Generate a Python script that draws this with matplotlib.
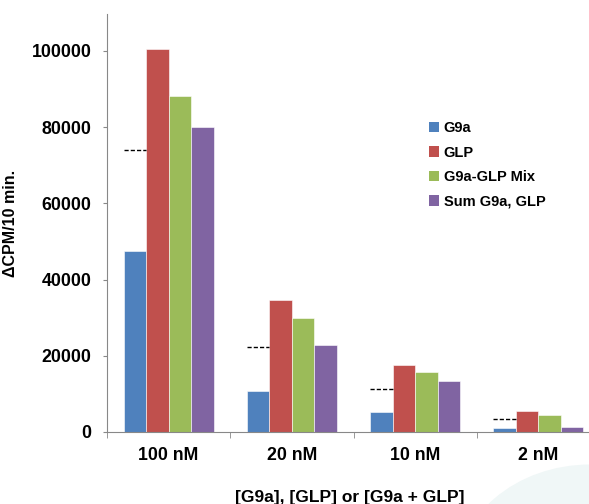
import matplotlib
matplotlib.use("Agg")
import matplotlib.pyplot as plt
from matplotlib.patches import Circle, Patch
import numpy as np

plt.rcParams['font.family'] = ['Liberation Sans', 'DejaVu Sans']
plt.rcParams['font.weight'] = 'bold'

categories = ['100 nM', '20 nM', '10 nM', '2 nM']
series = ['G9a', 'GLP', 'G9a-GLP Mix', 'Sum G9a, GLP']
g9a = [47500, 10700, 5250, 1150]
glp = [100500, 34650, 17500, 5500]
mix = [88200, 30000, 15800, 4400]
sum_g9a_glp = [80000, 22750, 13300, 1300]
expected = [74000, 22400, 11400, 3350]
yticks = [0, 20000, 40000, 60000, 80000, 100000]

colors = ['#4F81BD', '#C0504D', '#9BBB59', '#8064A2']

fig = plt.figure(figsize=(5.89, 5.04), dpi=100)
# faint decoration in the lower right corner
fig.patches.append(Circle((590 / 589, 1 - 580 / 504), 135 / 589, transform=fig.transFigure,
                          facecolor='#f0f7f7', edgecolor='none', zorder=0))

ax = fig.add_axes([107 / 589, 1 - 432 / 504, 493 / 589, 418 / 504])
ax.patch.set_alpha(0)

x = np.arange(len(categories))
w = 0.183
for i, (vals, name) in enumerate(zip([g9a, glp, mix, sum_g9a_glp], series)):
    ax.bar(x + (i - 1.5) * w, vals, w, color=colors[i], label=name,
           edgecolor='white', linewidth=0.4, zorder=2)

ax.hlines(expected, x - 2 * w, x - w, colors='black', linestyles=(0, (3, 1.5)),
          linewidth=1.0, zorder=3)

ax.set_xlim(-0.5, 3.5)
ax.set_ylim(0, 109700)
ax.set_yticks(yticks)
ax.set_yticklabels([str(v) for v in yticks], fontsize=12.8, fontweight='bold')
ax.set_xticks(x)
ax.set_xticklabels(categories, fontsize=12.8, fontweight='bold')
ax.set_xticks(np.arange(-0.5, 4.0, 1.0), minor=True)
ax.tick_params(axis='x', which='major', length=0, pad=11)
ax.tick_params(axis='x', which='minor', length=4, color='#888888', direction='out')
ax.tick_params(axis='y', length=3, color='#888888', direction='out', pad=8)

for s in ['top', 'right']:
    ax.spines[s].set_visible(False)
for s in ['left', 'bottom']:
    ax.spines[s].set_color('#888888')

ax.set_ylabel('ΔCPM/10 min.', fontsize=11.5, fontweight='bold')
ax.yaxis.set_label_coords((18 - 107) / 493, (432 - 223) / 418)
ax.set_xlabel('[G9a], [GLP] or [G9a + GLP]', fontsize=12.5, fontweight='bold')
ax.xaxis.set_label_coords((350 - 107) / 493, -(490 - 432) / 418)

handles = [Patch(facecolor=c, edgecolor='none') for c in colors]
leg = ax.legend(handles, series, loc='upper left', bbox_to_anchor=((416 - 107) / 493, (432 - 108) / 418),
                frameon=False, prop={'size': 10.5, 'weight': 'bold'}, handlelength=0.7,
                handleheight=0.7, handletextpad=0.3, labelspacing=0.72)

fig.savefig('out.png', dpi=100)
